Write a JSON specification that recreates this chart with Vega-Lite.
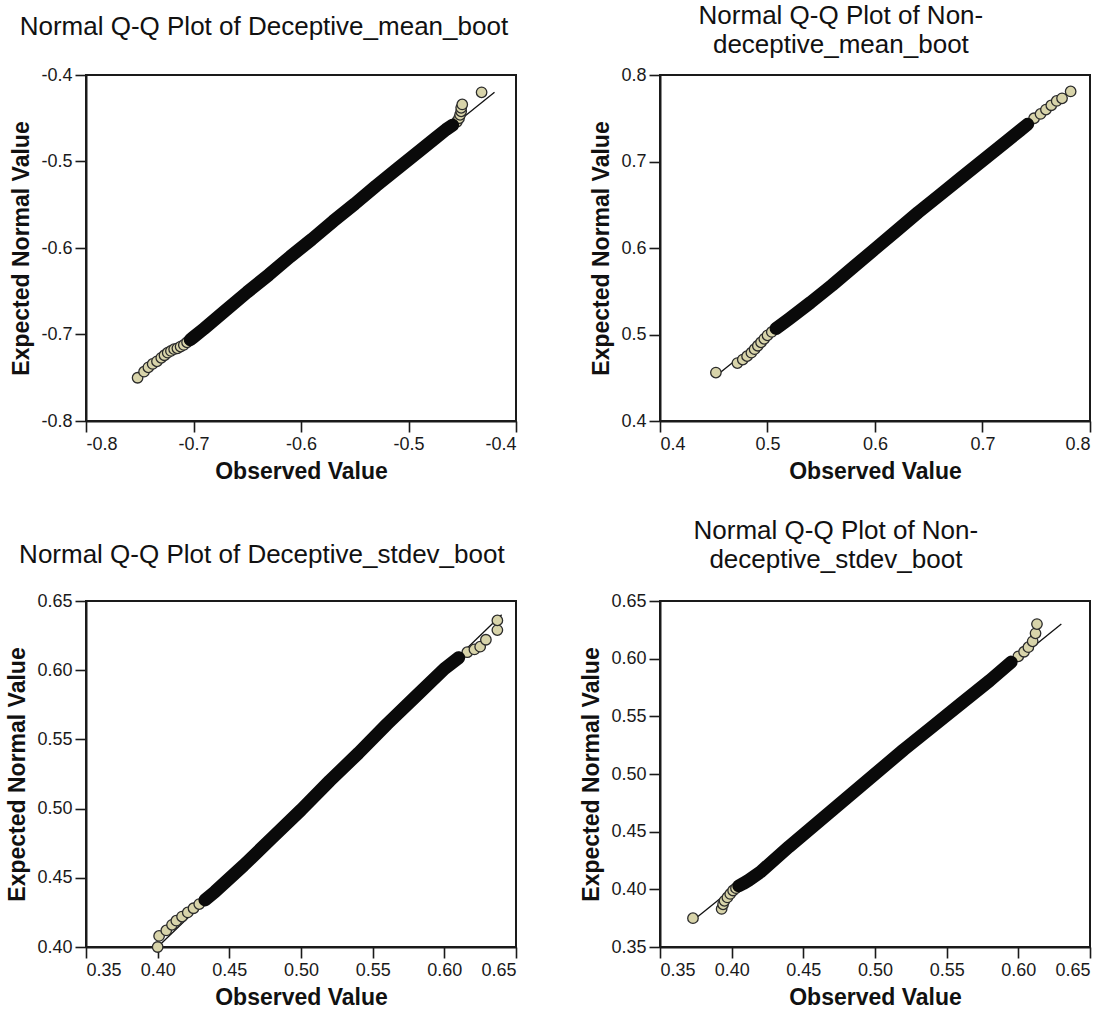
{
  "$schema": "https://vega.github.io/schema/vega-lite/v6.json",
  "background": "white",
  "padding": {"left": 5, "top": 2, "right": 0, "bottom": 0},
  "datasets": {
    "d1": [
      {"obs": -0.752, "exp": -0.750}, {"obs": -0.746, "exp": -0.743}, {"obs": -0.742, "exp": -0.738},
      {"obs": -0.738, "exp": -0.734}, {"obs": -0.734, "exp": -0.731}, {"obs": -0.730, "exp": -0.727},
      {"obs": -0.727, "exp": -0.724}, {"obs": -0.724, "exp": -0.721}, {"obs": -0.721, "exp": -0.719},
      {"obs": -0.718, "exp": -0.717}, {"obs": -0.715, "exp": -0.716}, {"obs": -0.712, "exp": -0.714},
      {"obs": -0.709, "exp": -0.712}, {"obs": -0.706, "exp": -0.709}, {"obs": -0.703, "exp": -0.706},
      {"obs": -0.700, "exp": -0.703}, {"obs": -0.690, "exp": -0.693}, {"obs": -0.670, "exp": -0.672},
      {"obs": -0.650, "exp": -0.651}, {"obs": -0.630, "exp": -0.631}, {"obs": -0.610, "exp": -0.610},
      {"obs": -0.590, "exp": -0.590}, {"obs": -0.570, "exp": -0.569}, {"obs": -0.550, "exp": -0.549},
      {"obs": -0.530, "exp": -0.528}, {"obs": -0.510, "exp": -0.508}, {"obs": -0.490, "exp": -0.488},
      {"obs": -0.475, "exp": -0.473}, {"obs": -0.465, "exp": -0.463}, {"obs": -0.459, "exp": -0.458},
      {"obs": -0.455, "exp": -0.454}, {"obs": -0.453, "exp": -0.450}, {"obs": -0.452, "exp": -0.446},
      {"obs": -0.451, "exp": -0.442}, {"obs": -0.451, "exp": -0.438}, {"obs": -0.450, "exp": -0.434},
      {"obs": -0.432, "exp": -0.420}
    ],
    "r1": [{"v": -0.755}, {"v": -0.420}],
    "d2": [
      {"obs": 0.452, "exp": 0.456}, {"obs": 0.472, "exp": 0.467}, {"obs": 0.477, "exp": 0.471},
      {"obs": 0.481, "exp": 0.475}, {"obs": 0.485, "exp": 0.479}, {"obs": 0.488, "exp": 0.483},
      {"obs": 0.491, "exp": 0.487}, {"obs": 0.494, "exp": 0.491}, {"obs": 0.497, "exp": 0.495},
      {"obs": 0.500, "exp": 0.499}, {"obs": 0.504, "exp": 0.503}, {"obs": 0.508, "exp": 0.507},
      {"obs": 0.520, "exp": 0.518}, {"obs": 0.540, "exp": 0.537}, {"obs": 0.560, "exp": 0.557},
      {"obs": 0.580, "exp": 0.578}, {"obs": 0.600, "exp": 0.599}, {"obs": 0.620, "exp": 0.620},
      {"obs": 0.640, "exp": 0.641}, {"obs": 0.660, "exp": 0.661}, {"obs": 0.680, "exp": 0.681},
      {"obs": 0.700, "exp": 0.701}, {"obs": 0.720, "exp": 0.721}, {"obs": 0.735, "exp": 0.736},
      {"obs": 0.742, "exp": 0.743}, {"obs": 0.748, "exp": 0.750}, {"obs": 0.754, "exp": 0.755},
      {"obs": 0.759, "exp": 0.760}, {"obs": 0.764, "exp": 0.765}, {"obs": 0.769, "exp": 0.770},
      {"obs": 0.774, "exp": 0.773}, {"obs": 0.782, "exp": 0.781}
    ],
    "r2": [{"v": 0.452}, {"v": 0.782}],
    "d3": [
      {"obs": 0.400, "exp": 0.400}, {"obs": 0.401, "exp": 0.408}, {"obs": 0.406, "exp": 0.412},
      {"obs": 0.410, "exp": 0.416}, {"obs": 0.413, "exp": 0.419}, {"obs": 0.417, "exp": 0.422},
      {"obs": 0.421, "exp": 0.425}, {"obs": 0.425, "exp": 0.428}, {"obs": 0.429, "exp": 0.431},
      {"obs": 0.433, "exp": 0.434}, {"obs": 0.440, "exp": 0.440}, {"obs": 0.460, "exp": 0.459},
      {"obs": 0.480, "exp": 0.479}, {"obs": 0.500, "exp": 0.499}, {"obs": 0.520, "exp": 0.520},
      {"obs": 0.540, "exp": 0.540}, {"obs": 0.560, "exp": 0.561}, {"obs": 0.580, "exp": 0.581},
      {"obs": 0.600, "exp": 0.601}, {"obs": 0.610, "exp": 0.609}, {"obs": 0.616, "exp": 0.613},
      {"obs": 0.621, "exp": 0.615}, {"obs": 0.625, "exp": 0.617}, {"obs": 0.629, "exp": 0.622},
      {"obs": 0.637, "exp": 0.629}, {"obs": 0.637, "exp": 0.636}
    ],
    "r3": [{"v": 0.398}, {"v": 0.640}],
    "d4": [
      {"obs": 0.373, "exp": 0.375}, {"obs": 0.393, "exp": 0.383}, {"obs": 0.394, "exp": 0.387},
      {"obs": 0.395, "exp": 0.390}, {"obs": 0.397, "exp": 0.393}, {"obs": 0.399, "exp": 0.396},
      {"obs": 0.401, "exp": 0.399}, {"obs": 0.403, "exp": 0.401}, {"obs": 0.405, "exp": 0.403},
      {"obs": 0.408, "exp": 0.405}, {"obs": 0.412, "exp": 0.408}, {"obs": 0.420, "exp": 0.415},
      {"obs": 0.440, "exp": 0.437}, {"obs": 0.460, "exp": 0.458}, {"obs": 0.480, "exp": 0.479},
      {"obs": 0.500, "exp": 0.500}, {"obs": 0.520, "exp": 0.521}, {"obs": 0.540, "exp": 0.541},
      {"obs": 0.560, "exp": 0.561}, {"obs": 0.580, "exp": 0.581}, {"obs": 0.595, "exp": 0.597},
      {"obs": 0.600, "exp": 0.602}, {"obs": 0.604, "exp": 0.606}, {"obs": 0.607, "exp": 0.610},
      {"obs": 0.610, "exp": 0.615}, {"obs": 0.612, "exp": 0.622}, {"obs": 0.613, "exp": 0.630}
    ],
    "r4": [{"v": 0.373}, {"v": 0.630}]
  },
  "columns": 2,
  "bounds": "flush",
  "spacing": {"row": 180, "column": 144},
  "concat": [
    {
      "width": 430, "height": 346,
      "title": {"text": "Normal Q-Q Plot of Deceptive_mean_boot", "offset": 26},
      "layer": [
        {
          "data": {"name": "r1"},
          "mark": {"type": "line", "color": "#111", "strokeWidth": 1.3},
          "encoding": {
            "x": {"field": "v", "type": "quantitative", "scale": {"domain": [-0.8, -0.4], "nice": false, "zero": false},
                  "axis": {"values": [-0.8, -0.7, -0.6, -0.5, -0.4], "format": ".1f", "labelExpr": "replace(datum.label, '\u2212', '-')", "title": "Observed Value"}},
            "y": {"field": "v", "type": "quantitative", "scale": {"domain": [-0.8, -0.4], "nice": false, "zero": false},
                  "axis": {"values": [-0.8, -0.7, -0.6, -0.5, -0.4], "format": ".1f", "labelExpr": "replace(datum.label, '\u2212', '-')", "title": "Expected Normal Value"}}
          }
        },
        {
          "data": {"name": "d1"},
          "mark": {"type": "point", "shape": "circle", "filled": true, "size": 110, "fill": "#d8d4aa", "stroke": "#2b2b2b", "strokeWidth": 1.3, "opacity": 1},
          "encoding": {"x": {"field": "obs", "type": "quantitative"}, "y": {"field": "exp", "type": "quantitative"}}
        },
        {
          "data": {"name": "d1"},
          "transform": [{"filter": {"field": "obs", "range": [-0.705, -0.456]}}],
          "mark": {"type": "line", "color": "#0a0a0a", "strokeWidth": 13, "strokeCap": "round", "strokeJoin": "round"},
          "encoding": {"x": {"field": "obs", "type": "quantitative"}, "y": {"field": "exp", "type": "quantitative"}}
        }
      ]
    },
    {
      "width": 430, "height": 346,
      "title": {"text": ["Normal Q-Q Plot of Non-", "deceptive_mean_boot"], "offset": 8},
      "layer": [
        {
          "data": {"name": "r2"},
          "mark": {"type": "line", "color": "#111", "strokeWidth": 1.3},
          "encoding": {
            "x": {"field": "v", "type": "quantitative", "scale": {"domain": [0.4, 0.8], "nice": false, "zero": false},
                  "axis": {"values": [0.4, 0.5, 0.6, 0.7, 0.8], "format": ".1f", "title": "Observed Value"}},
            "y": {"field": "v", "type": "quantitative", "scale": {"domain": [0.4, 0.8], "nice": false, "zero": false},
                  "axis": {"values": [0.4, 0.5, 0.6, 0.7, 0.8], "format": ".1f", "title": "Expected Normal Value"}}
          }
        },
        {
          "data": {"name": "d2"},
          "mark": {"type": "point", "shape": "circle", "filled": true, "size": 110, "fill": "#d8d4aa", "stroke": "#2b2b2b", "strokeWidth": 1.3, "opacity": 1},
          "encoding": {"x": {"field": "obs", "type": "quantitative"}, "y": {"field": "exp", "type": "quantitative"}}
        },
        {
          "data": {"name": "d2"},
          "transform": [{"filter": {"field": "obs", "range": [0.505, 0.745]}}],
          "mark": {"type": "line", "color": "#0a0a0a", "strokeWidth": 13, "strokeCap": "round", "strokeJoin": "round"},
          "encoding": {"x": {"field": "obs", "type": "quantitative"}, "y": {"field": "exp", "type": "quantitative"}}
        }
      ]
    },
    {
      "width": 430, "height": 346,
      "title": {"text": "Normal Q-Q Plot of Deceptive_stdev_boot", "offset": 24},
      "layer": [
        {
          "data": {"name": "r3"},
          "mark": {"type": "line", "color": "#111", "strokeWidth": 1.3},
          "encoding": {
            "x": {"field": "v", "type": "quantitative", "scale": {"domain": [0.35, 0.65], "nice": false, "zero": false},
                  "axis": {"values": [0.35, 0.4, 0.45, 0.5, 0.55, 0.6, 0.65], "format": ".2f", "title": "Observed Value"}},
            "y": {"field": "v", "type": "quantitative", "scale": {"domain": [0.4, 0.65], "nice": false, "zero": false},
                  "axis": {"values": [0.4, 0.45, 0.5, 0.55, 0.6, 0.65], "format": ".2f", "title": "Expected Normal Value"}}
          }
        },
        {
          "data": {"name": "d3"},
          "mark": {"type": "point", "shape": "circle", "filled": true, "size": 110, "fill": "#d8d4aa", "stroke": "#2b2b2b", "strokeWidth": 1.3, "opacity": 1},
          "encoding": {"x": {"field": "obs", "type": "quantitative"}, "y": {"field": "exp", "type": "quantitative"}}
        },
        {
          "data": {"name": "d3"},
          "transform": [{"filter": {"field": "obs", "range": [0.43, 0.612]}}],
          "mark": {"type": "line", "color": "#0a0a0a", "strokeWidth": 13, "strokeCap": "round", "strokeJoin": "round"},
          "encoding": {"x": {"field": "obs", "type": "quantitative"}, "y": {"field": "exp", "type": "quantitative"}}
        }
      ]
    },
    {
      "width": 430, "height": 346,
      "title": {"text": ["Normal Q-Q Plot of Non-", "deceptive_stdev_boot"], "offset": 19},
      "layer": [
        {
          "data": {"name": "r4"},
          "mark": {"type": "line", "color": "#111", "strokeWidth": 1.3},
          "encoding": {
            "x": {"field": "v", "type": "quantitative", "scale": {"domain": [0.35, 0.65], "nice": false, "zero": false},
                  "axis": {"values": [0.35, 0.4, 0.45, 0.5, 0.55, 0.6, 0.65], "format": ".2f", "title": "Observed Value"}},
            "y": {"field": "v", "type": "quantitative", "scale": {"domain": [0.35, 0.65], "nice": false, "zero": false},
                  "axis": {"values": [0.35, 0.4, 0.45, 0.5, 0.55, 0.6, 0.65], "format": ".2f", "title": "Expected Normal Value"}}
          }
        },
        {
          "data": {"name": "d4"},
          "mark": {"type": "point", "shape": "circle", "filled": true, "size": 110, "fill": "#d8d4aa", "stroke": "#2b2b2b", "strokeWidth": 1.3, "opacity": 1},
          "encoding": {"x": {"field": "obs", "type": "quantitative"}, "y": {"field": "exp", "type": "quantitative"}}
        },
        {
          "data": {"name": "d4"},
          "transform": [{"filter": {"field": "obs", "range": [0.405, 0.598]}}],
          "mark": {"type": "line", "color": "#0a0a0a", "strokeWidth": 13, "strokeCap": "round", "strokeJoin": "round"},
          "encoding": {"x": {"field": "obs", "type": "quantitative"}, "y": {"field": "exp", "type": "quantitative"}}
        }
      ]
    }
  ],
  "config": {
    "font": "Liberation Sans",
    "view": {"stroke": "#1a1a1a", "strokeWidth": 2},
    "axis": {
      "grid": false,
      "domainColor": "#1a1a1a", "domainWidth": 2,
      "tickColor": "#1a1a1a", "tickWidth": 1.6, "tickSize": 11,
      "labelFont": "Liberation Sans", "labelFontSize": 18, "labelColor": "#1a1a1a", "labelPadding": 3,
      "titleFont": "Liberation Sans", "titleFontSize": 23, "titleFontWeight": "bold", "titleColor": "#111", "titlePadding": 7
    },
    "title": {"font": "Liberation Sans", "fontSize": 26, "fontWeight": "normal", "color": "#111", "anchor": "middle", "frame": "bounds", "lineHeight": 29}
  }
}
